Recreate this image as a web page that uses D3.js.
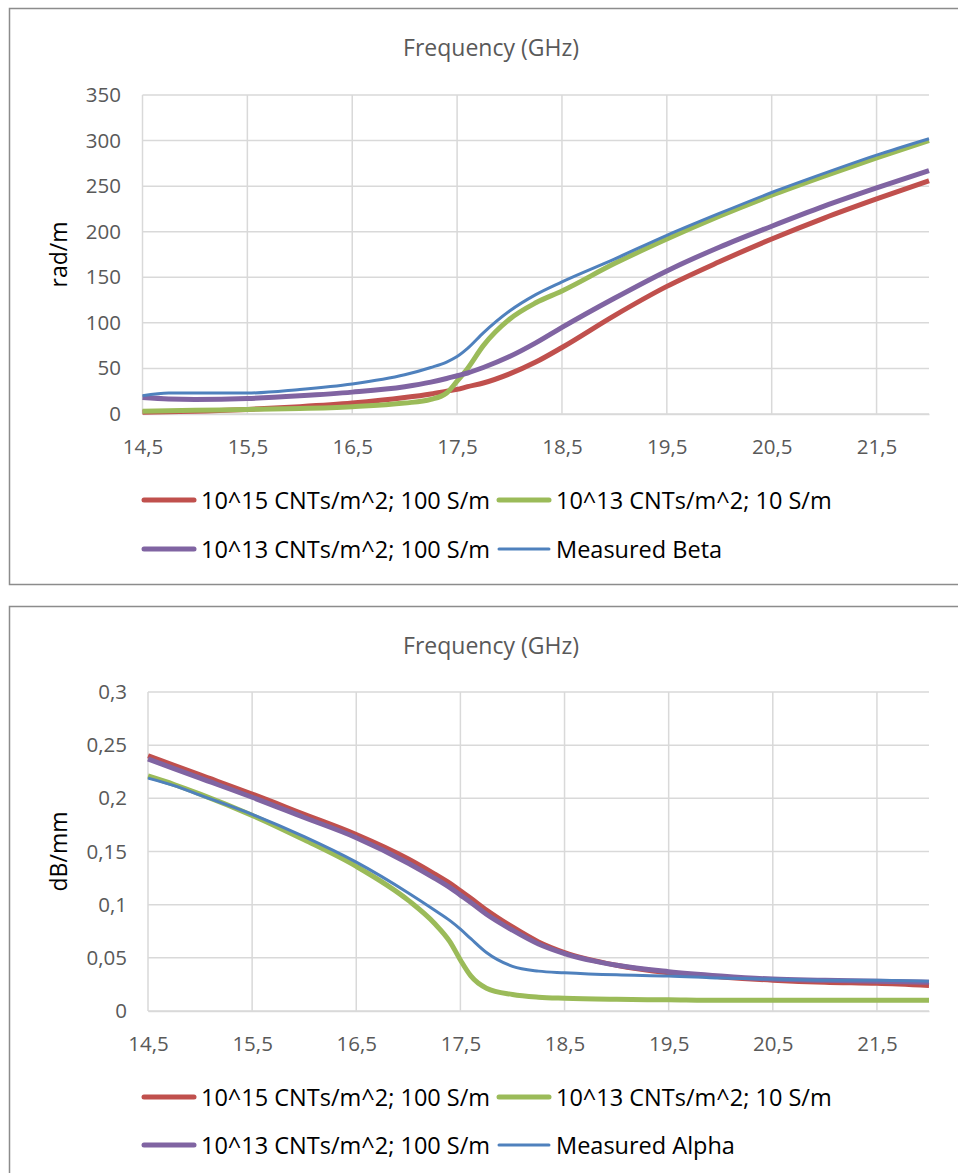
<!DOCTYPE html>
<html>
<head>
<meta charset="utf-8">
<script src="https://cdn.jsdelivr.net/npm/d3@7/dist/d3.min.js"></script>
<style>
  html, body { margin: 0; padding: 0; background: #fff; }
  svg { display: block; }
  text { font-family: "Open Sans", "DejaVu Sans", sans-serif; }
</style>
</head>
<body>
<svg id="chart" width="958" height="1173"></svg>
<script>
// ---------- DATA ----------
const freq = [14.5, 14.75, 15, 15.5, 16, 16.5, 17, 17.25, 17.4, 17.5, 17.6, 17.75, 18, 18.25, 18.5, 19, 19.5, 20, 20.5, 21, 21.5, 22];
const xTicks = [14.5, 15.5, 16.5, 17.5, 18.5, 19.5, 20.5, 21.5];

const seriesNames = ["10^15 CNTs/m^2; 100 S/m", "10^13 CNTs/m^2; 10 S/m", "10^13 CNTs/m^2; 100 S/m"];

// Beta (rad/m)
const betaRed    = [2, 2.5, 3, 5, 8, 12, 18, 22, 25, 27, 30, 34, 44, 57, 73, 108, 140, 167, 192, 215, 236, 256];
const betaGreen  = [3, 3.5, 4, 5, 6, 8, 12, 16, 23, 36, 50, 75, 104, 122, 135, 165, 192, 217, 240, 261, 281, 300];
const betaPurple = [18, 16.5, 16, 17, 20, 24, 30, 35, 39, 42, 45, 51, 63, 78, 95, 127, 157, 183, 206, 228, 248, 267];
const betaMeas   = [20, 23, 23, 23, 27, 33, 43, 51, 57, 63, 72, 89, 113, 131, 145, 170, 196, 220, 243, 264, 284, 302];
const betaTicks  = [0, 50, 100, 150, 200, 250, 300, 350];

// Alpha (dB/mm)
const alphaRed    = [0.240, 0.231, 0.222, 0.204, 0.185, 0.166, 0.143, 0.129, 0.120, 0.113, 0.106, 0.095, 0.079, 0.065, 0.055, 0.043, 0.036, 0.032, 0.029, 0.027, 0.026, 0.024];
const alphaGreen  = [0.221, 0.213, 0.204, 0.184, 0.161, 0.136, 0.104, 0.0825, 0.065, 0.048, 0.033, 0.0215, 0.0155, 0.013, 0.012, 0.011, 0.0105, 0.010, 0.010, 0.010, 0.010, 0.010];
const alphaPurple = [0.237, 0.228, 0.219, 0.201, 0.182, 0.163, 0.139, 0.125, 0.116, 0.109, 0.102, 0.091, 0.076, 0.063, 0.054, 0.043, 0.037, 0.033, 0.030, 0.029, 0.028, 0.027];
const alphaMeas   = [0.219, 0.212, 0.203, 0.185, 0.164, 0.140, 0.111, 0.095, 0.085, 0.077, 0.068, 0.055, 0.042, 0.0375, 0.036, 0.034, 0.033, 0.031, 0.030, 0.029, 0.029, 0.028];
const alphaTicks  = [0, 0.05, 0.1, 0.15, 0.2, 0.25, 0.3];

const colors = ["#C0504D", "#9BBB59", "#8064A2", "#4F81BD"];
const widths = [5, 5, 5, 3];

// ---------- DRAW ----------
const svg = d3.select("#chart");
const fmtComma = d => String(d).replace(".", ",");

function drawPanel(cfg) {
  const g = svg.append("g");
  // outer frame
  g.append("rect")
    .attr("x", 9.5).attr("y", cfg.boxTop + 0.5)
    .attr("width", 1000).attr("height", cfg.boxH)
    .attr("fill", "none").attr("stroke", "#8c8c8c").attr("stroke-width", 1.5);

  const x = d3.scaleLinear().domain([14.5, 22]).range([cfg.left, 929]);
  const y = d3.scaleLinear().domain([0, cfg.yMax]).range([cfg.bottom, cfg.top]);

  // gridlines
  g.append("g").selectAll("line").data(cfg.yTicks).join("line")
    .attr("x1", cfg.left).attr("x2", 929)
    .attr("y1", d => y(d)).attr("y2", d => y(d))
    .attr("stroke", "#d9d9d9").attr("stroke-width", 1.5);
  g.append("g").selectAll("line").data(xTicks).join("line")
    .attr("x1", d => x(d)).attr("x2", d => x(d))
    .attr("y1", cfg.top).attr("y2", cfg.bottom)
    .attr("stroke", "#d9d9d9").attr("stroke-width", 1.5);

  // axes (labels only)
  const xAxis = d3.axisBottom(x).tickValues(xTicks).tickFormat(fmtComma).tickSize(0).tickPadding(25);
  const xg = g.append("g").attr("transform", `translate(0,${cfg.bottom})`).call(xAxis);
  xg.select(".domain").attr("stroke", "#d9d9d9").attr("stroke-width", 1.5);
  xg.selectAll("text").attr("fill", "#595959").attr("font-size", 20.5);

  const yAxis = d3.axisLeft(y).tickValues(cfg.yTicks).tickFormat(fmtComma).tickSize(0).tickPadding(cfg.left - cfg.tickRight);
  const yg = g.append("g").attr("transform", `translate(${cfg.left},0)`).call(yAxis);
  yg.select(".domain").remove();
  yg.selectAll("text").attr("fill", "#595959").attr("font-size", 20.5);

  // title
  g.append("text").attr("x", 491).attr("y", cfg.titleY)
    .attr("text-anchor", "middle").attr("dominant-baseline", "central")
    .attr("fill", "#595959").attr("font-size", 23).text("Frequency (GHz)");

  // y label
  g.append("text")
    .attr("transform", `translate(58,${(cfg.top + cfg.bottom) / 2}) rotate(-90)`)
    .attr("text-anchor", "middle").attr("dominant-baseline", "central")
    .attr("fill", "#000").attr("font-size", 23).text(cfg.yLabel);

  // lines
  const line = d3.line().x(d => x(d[0])).y(d => y(d[1])).curve(d3.curveMonotoneX);
  cfg.series.forEach((vals, i) => {
    g.append("path")
      .datum(freq.map((f, k) => [f, vals[k]]))
      .attr("d", line)
      .attr("fill", "none").attr("stroke", colors[i])
      .attr("stroke-width", widths[i]).attr("stroke-linejoin", "round");
  });

  // legend
  const names = seriesNames.concat([cfg.measName]);
  const pos = [[142, cfg.legY1], [497, cfg.legY1], [142, cfg.legY2], [497, cfg.legY2]];
  names.forEach((n, i) => {
    const [lx, ly] = pos[i];
    g.append("line").attr("x1", lx + 2).attr("x2", lx + 52).attr("y1", ly).attr("y2", ly)
      .attr("stroke", colors[i]).attr("stroke-width", widths[i]).attr("stroke-linecap", "round");
    g.append("text").attr("x", lx + 59).attr("y", ly)
      .attr("dominant-baseline", "central").attr("fill", "#000").attr("font-size", 23.5).text(n);
  });
}

drawPanel({
  boxTop: 8, boxH: 576, left: 142.5, top: 95, bottom: 414, yMax: 350, tickRight: 121,
  yTicks: betaTicks, yLabel: "rad/m", titleY: 47, legY1: 500, legY2: 549,
  series: [betaRed, betaGreen, betaPurple, betaMeas], measName: "Measured Beta"
});
drawPanel({
  boxTop: 606, boxH: 600, left: 148, top: 692, bottom: 1011, yMax: 0.3, tickRight: 127,
  yTicks: alphaTicks, yLabel: "dB/mm", titleY: 645, legY1: 1097, legY2: 1145,
  series: [alphaRed, alphaGreen, alphaPurple, alphaMeas], measName: "Measured Alpha"
});
</script>
</body>
</html>
